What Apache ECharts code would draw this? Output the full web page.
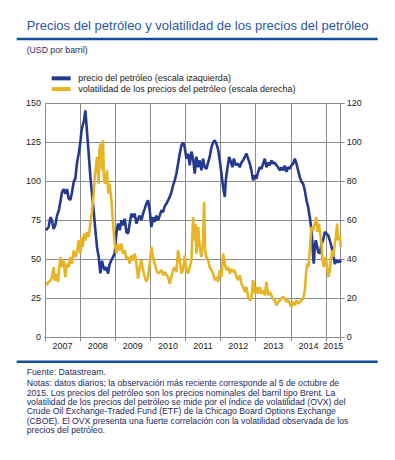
<!DOCTYPE html>
<html><head><meta charset="utf-8">
<script src="https://cdn.jsdelivr.net/npm/echarts@6/dist/echarts.min.js"></script>
<style>html,body{margin:0;padding:0;background:#fff}#c{width:395px;height:460px}</style>
</head><body><div id="c"></div>
<script>
const titleText = 'Precios del petróleo y volatilidad de los precios del petróleo';
const unitText = '(USD por barril)';
const seriesNames = ['precio del petróleo (escala izaquierda)', 'volatilidad de los precios del petróleo (escala derecha)'];
const yearLabels = ['2007','2008','2009','2010','2011','2012','2013','2014','2015'];
const sampleYears = 8.42; // sample length in years, ending 5 Oct 2015
const leftAxis = { min: 0, max: 150, interval: 25 };
const rightAxis = { min: 0, max: 120, interval: 20 };

// time in years from start of sample
const priceTime = [0.028,0.105,0.152,0.199,0.247,0.294,0.342,0.389,0.437,0.484,0.532,0.579,0.627,0.674,0.722,0.769,0.817,0.864,0.912,0.959,1.007,1.035,1.073,1.111,1.149,1.178,1.216,1.244,1.292,1.339,1.387,1.434,1.481,1.529,1.576,1.624,1.652,1.700,1.747,1.795,1.842,1.890,1.937,1.985,2.032,2.080,2.127,2.175,2.222,2.270,2.317,2.365,2.412,2.460,2.507,2.555,2.602,2.650,2.697,2.745,2.792,2.840,2.887,2.934,2.982,3.029,3.077,3.125,3.172,3.219,3.267,3.314,3.362,3.409,3.457,3.504,3.552,3.599,3.647,3.694,3.742,3.789,3.837,3.884,3.932,3.979,4.027,4.074,4.122,4.169,4.217,4.264,4.311,4.359,4.406,4.454,4.501,4.549,4.596,4.644,4.691,4.739,4.786,4.834,4.881,4.929,4.976,5.024,5.071,5.119,5.147,5.185,5.242,5.280,5.337,5.375,5.432,5.499,5.546,5.594,5.641,5.689,5.736,5.783,5.831,5.878,5.926,5.974,6.021,6.068,6.116,6.163,6.211,6.258,6.306,6.353,6.401,6.448,6.496,6.543,6.591,6.638,6.686,6.733,6.781,6.828,6.876,6.923,6.971,7.018,7.066,7.113,7.161,7.208,7.255,7.303,7.350,7.398,7.446,7.493,7.540,7.588,7.616,7.635,7.654,7.683,7.711,7.749,7.778,7.825,7.873,7.920,7.968,8.015,8.063,8.110,8.158,8.205,8.253,8.300,8.348,8.395,8.420];
const priceValues = [68.6,70.7,77,74.8,69.4,71.8,78,81,86.7,93,95,92,95,89,88,93,99.6,101.7,112,117.7,125,131.6,136,139,145.5,137,126,117.7,102.7,92,81,68.6,57.9,51.5,41,49,46,43,45,40.8,47,49.4,51.5,53.6,66.5,72.9,68.6,75,71.8,76,67.5,66.5,72.9,79.3,77,79.3,72.9,76,78,75,79.3,82.5,85.7,87.8,81.4,70.7,77,74,78,75,78,81.4,80.3,84,85.7,87.8,90,93,97.4,100.6,105,111.3,117.7,123,125,121.8,114.5,117.7,110.3,119,114.5,105,115.8,109,113.4,107,114.5,109,108,112,115.8,121.8,125,126.3,124,120.5,113.4,105,96.4,90,100.6,107,115.6,113.4,109,114.5,110.3,111.3,109,112,113.4,115.6,117.7,114.5,111.3,107,100.6,103.8,101.7,106,109,108,111.3,114.5,109,112,110.3,113.4,111.3,112,110.3,109,107,109,107,110,106,109,108,110.3,111.3,114.5,111.3,107,102.7,99.6,98.5,94.2,87.8,83.5,77,68.6,60,51.5,47.2,57.9,62.2,58,54.7,53.6,60,62.2,67.5,66.5,65.4,62.2,58,53.6,47,49.4,48,49.4,48];

const volTime = [0.028,0.105,0.152,0.199,0.247,0.275,0.313,0.370,0.437,0.484,0.532,0.579,0.627,0.674,0.722,0.769,0.817,0.864,0.912,0.959,1.007,1.035,1.073,1.111,1.149,1.197,1.244,1.292,1.339,1.387,1.415,1.453,1.481,1.529,1.548,1.586,1.624,1.652,1.681,1.728,1.766,1.804,1.842,1.890,1.937,1.985,2.032,2.080,2.127,2.175,2.222,2.270,2.317,2.365,2.412,2.460,2.507,2.555,2.602,2.650,2.697,2.745,2.792,2.840,2.887,2.934,2.982,3.029,3.077,3.125,3.172,3.219,3.267,3.314,3.362,3.409,3.457,3.504,3.552,3.599,3.647,3.694,3.742,3.789,3.837,3.884,3.932,3.979,4.027,4.074,4.122,4.169,4.217,4.245,4.283,4.311,4.359,4.406,4.454,4.501,4.530,4.558,4.596,4.644,4.691,4.739,4.786,4.834,4.881,4.929,4.976,5.024,5.071,5.119,5.166,5.214,5.261,5.309,5.356,5.404,5.451,5.499,5.546,5.594,5.641,5.689,5.736,5.783,5.831,5.878,5.926,5.974,6.021,6.068,6.116,6.163,6.211,6.258,6.306,6.353,6.401,6.448,6.496,6.543,6.591,6.638,6.686,6.733,6.781,6.828,6.876,6.923,6.971,7.018,7.066,7.113,7.161,7.208,7.255,7.303,7.350,7.398,7.426,7.464,7.502,7.540,7.559,7.588,7.635,7.683,7.730,7.759,7.797,7.844,7.873,7.901,7.939,7.987,8.034,8.072,8.110,8.138,8.177,8.205,8.253,8.281,8.319,8.348,8.395,8.420];
const volValues = [26.7,28.4,29,30.9,36,29,32.5,28.4,41.2,36,39.5,30.9,37.8,36,41.2,37.8,44.6,41.2,43.7,49.7,42.9,51.4,46.3,53.2,49.7,54,51.4,58.3,65,73.7,82.2,87.4,92.5,78.8,95.9,99.3,85.6,101,80,78.8,85.6,73.7,78.8,70.3,58.3,48,42.9,48,44.6,48,42.9,44.6,40.3,41.2,37.8,42,39.5,42.9,37.8,30.1,36,39.5,34.4,30.9,28.4,30.9,37.8,46.3,41.2,37.8,34.4,32.7,33.5,34.4,31.8,33.5,32,30.9,27.5,30.9,34.4,36,33.5,44.6,39.5,32.7,34.4,42,34.4,32.7,36,39.5,61.7,49.7,58.3,42.9,56.6,46.3,41.2,49.7,69.4,44.6,41.2,39.5,36,34.4,32.7,29.3,30.9,28.4,34.4,30.9,42.9,37.8,34.4,36,32.7,35,33.5,34.4,30.9,29.3,31.8,27.5,25.8,23.2,25.8,20.7,19,19.8,29.3,22.4,25.8,22.4,25.8,22.4,24,21.5,28.4,21.5,23.2,21.5,19.8,19,16.4,18.1,19,19.8,20.7,19.8,18.1,19,17.3,15.6,18.1,16.4,19,17.3,18.1,19,19.8,24,30.9,37.8,36,44.6,49.7,56.6,54.9,58.3,61.7,54,58.3,52.3,48,39.5,36,41.2,36,30.9,34.4,39.5,44.6,41.2,48,51.4,58.3,49.7,52.3,46.3];

const sourceText = 'Fuente: Datastream.';
const notesLines = [
  'Notas: datos diarios; la observación más reciente corresponde al 5 de octubre de',
  '2015. Los precios del petróleo son los precios nominales del barril tipo Brent. La',
  'volatilidad de los precios del petróleo se mide por el índice de volatilidad (OVX) del',
  'Crude Oil Exchange-Traded Fund (ETF) de la Chicago Board Options Exchange',
  '(CBOE). El OVX presenta una fuerte correlación con la volatilidad observada de los',
  'precios del petróleo.'
];

const FONT = '"Liberation Sans", Arial, sans-serif';
const BLUE = '#24398f', GOLD = '#e6b425', GRIDC = '#8c8c8c', TXT = '#222';
const zip = (a, b) => a.map((t, i) => [t, b[i]]);
const labelPos = yearLabels.map((_, i) => (i + Math.min(i + 1, sampleYears)) / 2);

const graphics = [
  { type: 'text', x: 26.7, y: 25, style: { text: titleText, font: '13px ' + FONT, fill: '#2a57a7', textVerticalAlign: 'middle' } },
  { type: 'rect', shape: { x: 16.7, y: 37.8, width: 361, height: 2.5 }, style: { fill: '#114d9d' } },
  { type: 'text', x: 26.7, y: 49.8, style: { text: unitText, font: '8.7px ' + FONT, fill: '#1d2a5e', textVerticalAlign: 'middle' } },
  { type: 'rect', shape: { x: 16.7, y: 360.5, width: 361, height: 2.5 }, style: { fill: '#114d9d' } },
  { type: 'text', x: 26.7, y: 372.3, style: { text: sourceText, font: '8.7px ' + FONT, fill: '#1d2a5e', textVerticalAlign: 'middle' } }
];
notesLines.forEach((line, i) => {
  graphics.push({ type: 'text', x: 26.7, y: 383.1 + i * 9.45, style: { text: line, font: '8.7px ' + FONT, fill: '#1d2a5e', textVerticalAlign: 'middle' } });
});

const chart = echarts.init(document.getElementById('c'), null, { renderer: 'svg' });
chart.setOption({
  animation: false,
  backgroundColor: '#fff',
  textStyle: { fontFamily: FONT },
  graphic: graphics,
  legend: {
    orient: 'vertical', left: 46.7, top: 68, itemGap: 0,
    itemWidth: 19, itemHeight: 4, icon: 'rect',
    textStyle: { fontSize: 9, color: TXT, fontFamily: FONT, lineHeight: 10.7, padding: [0, 0, 0, 2.6] },
    data: seriesNames
  },
  grid: { left: 45, right: 54.3, top: 103.3, bottom: 122.7, containLabel: false, outerBoundsMode: 'none' },
  xAxis: {
    type: 'value', min: 0, max: sampleYears, interval: 1,
    axisLine: { show: true, lineStyle: { color: GRIDC, width: 1 } },
    axisTick: { show: true, length: 4, lineStyle: { color: GRIDC } },
    splitLine: { show: true, lineStyle: { color: GRIDC, width: 1 } },
    axisLabel: { customValues: labelPos, formatter: v => yearLabels[Math.floor(v)], fontSize: 9, color: TXT, margin: 4, fontFamily: FONT }
  },
  yAxis: [
    { type: 'value', position: 'left', min: leftAxis.min, max: leftAxis.max, interval: leftAxis.interval,
      axisLine: { show: true, lineStyle: { color: GRIDC } }, axisTick: { show: false },
      splitLine: { show: true, lineStyle: { color: GRIDC, width: 1 } },
      axisLabel: { fontSize: 9, color: TXT, margin: 4, fontFamily: FONT } },
    { type: 'value', position: 'right', min: rightAxis.min, max: rightAxis.max, interval: rightAxis.interval,
      axisLine: { show: true, lineStyle: { color: GRIDC } }, axisTick: { show: true, length: 4, lineStyle: { color: GRIDC } },
      splitLine: { show: false },
      axisLabel: { fontSize: 9, color: TXT, margin: 6, fontFamily: FONT } }
  ],
  series: [
    { name: seriesNames[0], type: 'line', yAxisIndex: 0, data: zip(priceTime, priceValues), showSymbol: false, symbol: 'none',
      lineStyle: { color: BLUE, width: 2.6 }, itemStyle: { color: BLUE } },
    { name: seriesNames[1], type: 'line', yAxisIndex: 1, data: zip(volTime, volValues), showSymbol: false, symbol: 'none',
      lineStyle: { color: GOLD, width: 2.6 }, itemStyle: { color: GOLD } }
  ]
});
</script></body></html>
